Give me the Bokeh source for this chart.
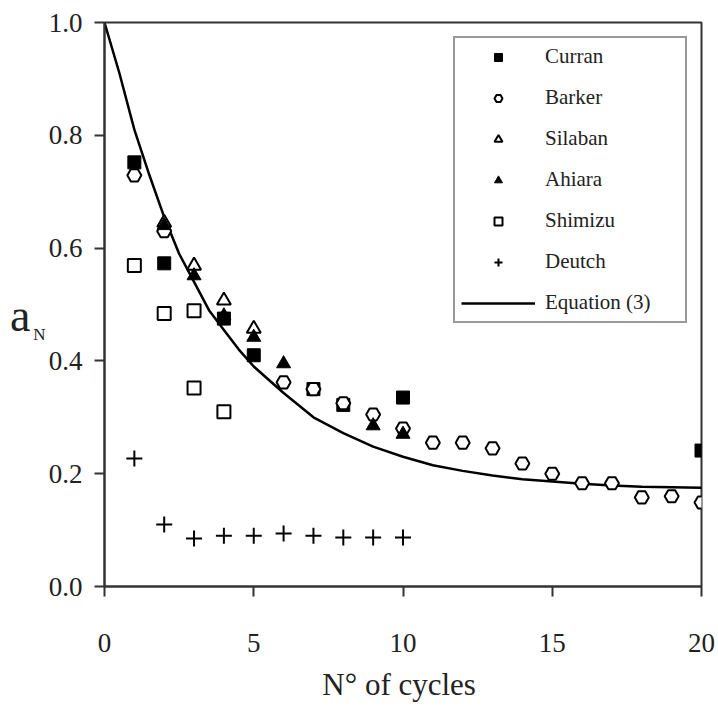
from bokeh.plotting import figure
from bokeh.models import (Range1d, FixedTicker, PrintfTickFormatter, Legend,
                          LegendItem, LinearAxis)
from bokeh.embed import file_html
from bokeh.resources import INLINE

# ---- data ----
curran_x = [1, 2, 4, 5, 7, 8, 10, 20]
curran_y = [0.752, 0.573, 0.475, 0.41, 0.35, 0.322, 0.335, 0.241]

barker_x = [1, 2, 6, 7, 8, 9, 10, 11, 12, 13, 14, 15, 16, 17, 18, 19, 20]
barker_y = [0.729, 0.63, 0.362, 0.35, 0.325, 0.305, 0.28, 0.255, 0.255, 0.245,
            0.218, 0.2, 0.183, 0.183, 0.158, 0.16, 0.149]

silaban_x = [2, 3, 4, 5]
silaban_y = [0.645, 0.569, 0.507, 0.457]

ahiara_x = [2, 3, 4, 5, 6, 9, 10]
ahiara_y = [0.64, 0.551, 0.48, 0.442, 0.395, 0.285, 0.27]

shimizu_x = [1, 2, 3, 3, 4]
shimizu_y = [0.569, 0.484, 0.489, 0.352, 0.31]

deutch_x = [1, 2, 3, 4, 5, 6, 7, 8, 9, 10]
deutch_y = [0.227, 0.11, 0.085, 0.09, 0.09, 0.094, 0.09, 0.087, 0.087, 0.087]

eq_x = [0, 0.5, 1, 1.5, 2, 2.5, 3, 3.5, 4, 4.5, 5, 6, 7, 8, 9, 10, 11, 12, 13,
        14, 15, 16, 17, 18, 19, 20]
eq_y = [1.0, 0.91, 0.81, 0.73, 0.655, 0.59, 0.54, 0.49, 0.455, 0.42, 0.39, 0.343,
        0.30, 0.272, 0.248, 0.23, 0.215, 0.205, 0.197, 0.19, 0.186, 0.182, 0.179,
        0.177, 0.176, 0.175]

x_ticks = [0, 5, 10, 15, 20]
y_ticks = [0.0, 0.2, 0.4, 0.6, 0.8, 1.0]

# y-axis title "a" with subscript "N", and where it sits along the axis
y_title_main = "a"
y_title_sub = "N"
y_title_main_at = 0.48
y_title_sub_at = 0.447

FONT = "Liberation Serif"
INK = "#222222"

p = figure(width=718, height=706, output_backend="svg", toolbar_location=None,
           x_range=Range1d(0, 20), y_range=Range1d(0, 1.0),
           min_border_left=104, min_border_right=17, min_border_top=22,
           min_border_bottom=120)
p.background_fill_color = "white"
p.border_fill_color = "white"
p.grid.visible = False
p.outline_line_color = "#333333"
p.outline_line_width = 2

for ax in (p.xaxis, p.yaxis):
    ax.axis_line_color = "#333333"
    ax.axis_line_width = 2
    ax.major_tick_line_color = "#333333"
    ax.major_tick_line_width = 2
    ax.major_tick_out = 10
    ax.major_tick_in = 0
    ax.minor_tick_line_color = None
    ax.major_label_text_font = FONT
    ax.major_label_text_font_size = "27px"
    ax.major_label_text_color = INK

p.xaxis.ticker = FixedTicker(ticks=x_ticks)
p.yaxis.ticker = FixedTicker(ticks=y_ticks)
p.yaxis.formatter = PrintfTickFormatter(format="%.1f")
p.xaxis.major_label_standoff = 37
p.yaxis.major_label_standoff = 12

p.xaxis.axis_label = "N°  of cycles"
p.xaxis.axis_label_text_font = FONT
p.xaxis.axis_label_text_font_style = "normal"
p.xaxis.axis_label_text_font_size = "31px"
p.xaxis.axis_label_text_color = INK
p.xaxis.axis_label_standoff = 12


def title_axis(text, at, size, standoff):
    ax = LinearAxis(ticker=FixedTicker(ticks=[at]),
                    major_label_overrides={at: text})
    ax.axis_line_color = None
    ax.major_tick_line_color = None
    ax.minor_tick_line_color = None
    ax.major_tick_out = 0
    ax.major_tick_in = 0
    ax.major_label_standoff = standoff
    ax.major_label_text_font = FONT
    ax.major_label_text_font_size = size
    ax.major_label_text_color = INK
    return ax


p.add_layout(title_axis(y_title_sub, y_title_sub_at, "17px", 0), "left")
p.add_layout(title_axis(y_title_main, y_title_main_at, "46px", 0), "left")

lw = 2
r_eq = p.line(eq_x, eq_y, line_color="black", line_width=2.5)
r_cur = p.scatter(curran_x, curran_y, marker="square", size=13,
                  fill_color="black", line_color="black", line_width=1)
r_bar = p.scatter(barker_x, barker_y, marker="hex", size=14,
                  fill_color="white", line_color="black", line_width=lw)
r_sil = p.scatter(silaban_x, silaban_y, marker="triangle", size=14,
                  fill_color="white", line_color="black", line_width=lw)
r_ahi = p.scatter(ahiara_x, ahiara_y, marker="triangle", size=14,
                  fill_color="black", line_color="black", line_width=1)
r_shi = p.scatter(shimizu_x, shimizu_y, marker="square", size=13,
                  fill_color="white", line_color="black", line_width=lw)
r_deu = p.scatter(deutch_x, deutch_y, marker="cross", size=16,
                  line_color="black", line_width=2)

legend = Legend(items=[
    LegendItem(label="Curran", renderers=[r_cur]),
    LegendItem(label="Barker", renderers=[r_bar]),
    LegendItem(label="Silaban", renderers=[r_sil]),
    LegendItem(label="Ahiara", renderers=[r_ahi]),
    LegendItem(label="Shimizu", renderers=[r_shi]),
    LegendItem(label="Deutch", renderers=[r_deu]),
    LegendItem(label="Equation (3)", renderers=[r_eq]),
], location="top_right")
legend.margin = 14
legend.padding = 6
legend.spacing = 16
legend.glyph_width = 74
legend.glyph_height = 20
legend.label_height = 20
legend.label_standoff = 10
legend.label_text_font = FONT
legend.label_text_font_size = "21px"
legend.label_text_color = INK
legend.border_line_color = "#333333"
legend.border_line_width = 2
legend.background_fill_alpha = 1
legend.label_width = 134
p.add_layout(legend, "center")

open("out.html", "w").write(file_html(p, INLINE))
